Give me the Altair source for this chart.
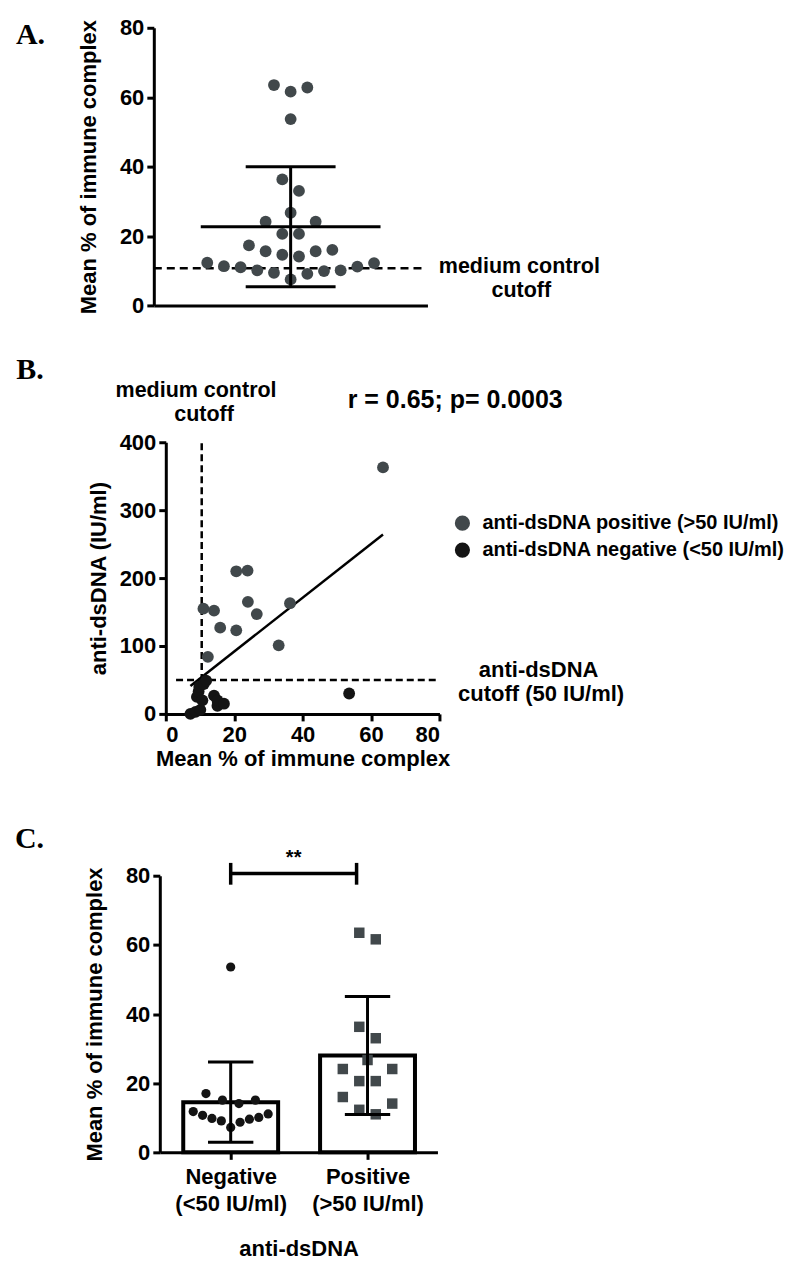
import altair as alt
import pandas as pd

FONT = "Liberation Sans, Arial, Helvetica, sans-serif"
SERIF = "Liberation Serif, Times New Roman, serif"
GREY = "#41484b"
BLACK = "#141414"

# ---------------- data ----------------
# Panel A: mean % of immune complex, all patients
A_values = [63.5, 61.6, 62.8, 53.7, 36.3, 33.0, 26.7, 24.1, 24.1, 20.6, 20.6,
            17.3, 15.6, 14.6, 14.1, 15.6, 16.0, 12.3, 11.3, 11.0, 10.1, 9.4,
            7.5, 9.1, 9.9, 10.1, 11.2, 12.2]
A_cutoff = [10.7]

# Panel B: immune complex vs anti-dsDNA
B_pos_x = [63.5, 20.6, 23.9, 11.0, 14.1, 24.0, 36.3, 26.6, 15.9, 20.6, 33.0, 12.3]
B_pos_y = [363, 210, 211, 155, 152, 165, 163, 147, 127, 123, 101, 84]
B_neg_x = [7.2, 8.7, 9.1, 9.6, 9.8, 10.1, 10.7, 11.1, 11.8, 14.1, 15.1, 15.1, 17.0, 53.6]
B_neg_y = [0, 3, 25, 33, 40, 6, 20, 44, 49, 27, 12, 20, 15, 30]
B_labels = ["anti-dsDNA positive (>50 IU/ml)", "anti-dsDNA negative (<50 IU/ml)"]
B_med_cutoff = [10.5]
B_dna_cutoff = [50]
B_stat_text = "r = 0.65; p= 0.0003"

# Panel C: by anti-dsDNA status
C_tick_lines = [["Negative", "(<50 IU/ml)"], ["Positive", "(>50 IU/ml)"]]
C_neg = [17.0, 15.1, 14.1, 15.1, 11.8, 10.7, 9.8, 9.1, 7.2, 8.7, 9.6, 10.1, 11.1, 53.6]
C_pos = [63.5, 61.6, 36.3, 33.0, 26.7, 24.1, 24.1, 20.6, 20.6, 16.0, 14.1, 12.3, 11.0]
C_sig_y = [80.6]
C_sig_x = [0.0, 0.92]
C_sig_tick = [77.4, 83.7]
C_sig_text = "**"

ONE = pd.DataFrame({"k": [0]})


def swarm_px(vals, thresh, natural, maxspan):
    """Column-scatter layout: group close values in rows, spread them sideways."""
    order = sorted(range(len(vals)), key=lambda i: vals[i])
    rows, cur, start = [], [], None
    for i in order:
        if start is None or vals[i] - start > thresh:
            if cur:
                rows.append(cur)
            cur, start = [i], vals[i]
        else:
            cur.append(i)
    rows.append(cur)
    offs = [0.0] * len(vals)
    for row in rows:
        n = len(row)
        step = natural if n < 2 else min(natural, maxspan / (n - 1))
        if n % 2 == 1:
            pos = [0] + [s * k for k in range(1, n // 2 + 1) for s in (1, -1)]
        else:
            pos = [s * (k - 0.5) for k in range(1, n // 2 + 1) for s in (1, -1)]
        for i, p in zip(row, pos):
            offs[i] = p * step
    return offs


def txt(s, x, y, size, align="center", baseline="middle", font=FONT, weight="bold"):
    return alt.Chart(ONE).mark_text(
        text=s, font=font, fontSize=size, fontWeight=weight, align=align,
        baseline=baseline, color="black"
    ).encode(x=alt.value(x), y=alt.value(y))


def box(L, T, R, B):
    return alt.Chart(ONE).mark_rule(opacity=0).encode(
        x=alt.value(L), x2=alt.value(R), y=alt.value(T), y2=alt.value(B))


def spacer():
    return alt.Chart(ONE).mark_rule(opacity=0).encode(
        x=alt.value(0), x2=alt.value(1), y=alt.value(0)).properties(width=1, height=1)


# ---------------- Panel A ----------------
dfA = pd.DataFrame({"value": A_values, "off": swarm_px(A_values, 5.2, 16.7, 200)})
xsA = alt.Scale(domain=[-137, 137], nice=False, zero=False)
ysA = alt.Scale(domain=[0, 80], nice=False)
axAx = alt.Axis(labels=False, ticks=False, title=None)
axAy = alt.Axis(values=[0, 20, 40, 60, 80], title="Mean % of immune complex",
                titlePadding=19, labelPadding=3)

ptsA = alt.Chart(dfA).mark_circle(size=140, color=GREY, opacity=1).encode(
    x=alt.X("off:Q", scale=xsA, axis=axAx),
    y=alt.Y("value:Q", scale=ysA, axis=axAy))
cutA = alt.Chart(pd.DataFrame({"c": A_cutoff})).mark_rule(
    color="black", strokeWidth=2.5, strokeDash=[8, 5]).encode(
    x=alt.datum(-137), x2=alt.datum(132), y=alt.Y("c:Q", scale=ysA, axis=axAy))
stA = alt.Chart(dfA).transform_aggregate(
    m="mean(value)", s="stdev(value)").transform_calculate(
    lo="datum.m - datum.s", hi="datum.m + datum.s")
meanA = stA.mark_rule(color="black", strokeWidth=3).encode(
    x=alt.datum(-90), x2=alt.datum(90), y=alt.Y("m:Q", scale=ysA, axis=axAy))
capHiA = stA.mark_rule(color="black", strokeWidth=3).encode(
    x=alt.datum(-45), x2=alt.datum(45), y=alt.Y("hi:Q", scale=ysA, axis=axAy))
capLoA = stA.mark_rule(color="black", strokeWidth=3).encode(
    x=alt.datum(-45), x2=alt.datum(45), y=alt.Y("lo:Q", scale=ysA, axis=axAy))
vertA = stA.mark_rule(color="black", strokeWidth=3).encode(
    x=alt.datum(0), y=alt.Y("lo:Q", scale=ysA, axis=axAy), y2="hi:Q")

panelA = alt.layer(
    box(-145, -19, 638, 313),
    cutA, ptsA, meanA, capHiA, capLoA, vertA,
    txt("A.", -138, 16, 30, align="left", baseline="alphabetic", font=SERIF),
    txt("medium control", 366, 240, 21.5),
    txt("cutoff", 368, 264, 21.5),
).properties(width=274, height=278)

# ---------------- Panel B ----------------
dfB = pd.DataFrame({
    "x": B_pos_x + B_neg_x,
    "y": B_pos_y + B_neg_y,
    "group": [B_labels[0]] * len(B_pos_x) + [B_labels[1]] * len(B_neg_x),
})
xsB = alt.Scale(domain=[0, 80], nice=False)
ysB = alt.Scale(domain=[0, 400], nice=False)
axBx = alt.Axis(values=[0, 20, 40, 60, 80], title="Mean % of immune complex",
                labelPadding=4, titlePadding=3)
axBy = alt.Axis(values=[0, 100, 200, 300, 400], title="anti-dsDNA (IU/ml)",
                titlePadding=9, labelPadding=3)

ptsB = alt.Chart(dfB).mark_circle(size=140, opacity=1).encode(
    x=alt.X("x:Q", scale=xsB, axis=axBx),
    y=alt.Y("y:Q", scale=ysB, axis=axBy),
    color=alt.Color("group:N", scale=alt.Scale(domain=B_labels, range=[GREY, BLACK]),
                    legend=alt.Legend(orient="none", legendX=287, legendY=71, title=None,
                                      labelFont=FONT, labelFontSize=20, labelFontWeight="bold",
                                      labelColor="black", labelLimit=0, symbolSize=230,
                                      symbolType="circle", symbolStrokeWidth=0,
                                      rowPadding=7, labelOffset=10, padding=0)))
regB = alt.Chart(dfB).transform_regression("x", "y").mark_line(
    color="black", strokeWidth=2.5).encode(
    x=alt.X("x:Q", scale=xsB, axis=axBx), y=alt.Y("y:Q", scale=ysB, axis=axBy))
vcutB = alt.Chart(pd.DataFrame({"c": B_med_cutoff})).mark_rule(
    color="black", strokeWidth=2.5, strokeDash=[7, 4]).encode(
    x=alt.X("c:Q", scale=xsB, axis=axBx), y=alt.datum(0), y2=alt.datum(400))
hcutB = alt.Chart(pd.DataFrame({"c": B_dna_cutoff})).mark_rule(
    color="black", strokeWidth=2.5, strokeDash=[7, 4]).encode(
    y=alt.Y("c:Q", scale=ysB, axis=axBy), x=alt.datum(3), x2=alt.datum(79))

panelB = alt.layer(
    box(-156.7, -101.7, 626.3, 348.3),
    vcutB, hcutB, regB, ptsB,
    txt("B.", -149.7, -63.7, 30, align="left", baseline="alphabetic", font=SERIF),
    txt("medium control", 30.3, -51.7, 21.5),
    txt("cutoff", 38.3, -27.7, 21.5),
    txt(B_stat_text, 289.8, -42.7, 25),
    txt("anti-dsDNA", 373.3, 228.3, 22),
    txt("cutoff (50 IU/ml)", 375.8, 252.3, 22),
).properties(width=274, height=272)

# ---------------- Panel C ----------------
offN = swarm_px(C_neg, 5.2, 16.5, 75)
offP = swarm_px(C_pos, 5.2, 16.5, 75)
PXG = 137.0  # pixels per group step
dfC = pd.DataFrame({
    "g": [0] * len(C_neg) + [1] * len(C_pos),
    "value": C_neg + C_pos,
    "off": offN + offP,
})
dfC["x"] = dfC["g"] + dfC["off"] / PXG

xsC = alt.Scale(domain=[-0.518, 1.511], nice=False, zero=False)
ysC = alt.Scale(domain=[0, 80], nice=False)
lab_expr = "datum.value == 0 ? %s : %s" % (
    "['" + "', '".join(C_tick_lines[0]) + "']",
    "['" + "', '".join(C_tick_lines[1]) + "']")
axCx = alt.Axis(values=[0, 1], labelExpr=lab_expr, title="anti-dsDNA",
                labelFontSize=22, labelLineHeight=27, labelPadding=7, titlePadding=24)
axCy = alt.Axis(values=[0, 20, 40, 60, 80], title="Mean % of immune complex",
                titlePadding=19, labelPadding=3)

stC = alt.Chart(dfC).transform_aggregate(
    m="mean(value)", s="stdev(value)", groupby=["g"]).transform_calculate(
    lo="datum.m - datum.s", hi="datum.m + datum.s",
    xl="datum.g - 47.5 / %s" % PXG, xr="datum.g + 47.5 / %s" % PXG,
    cl="datum.g - 22.7 / %s" % PXG, cr="datum.g + 22.7 / %s" % PXG)
barsC = stC.mark_rect(fill="white", stroke="black", strokeWidth=4).encode(
    x=alt.X("xl:Q", scale=xsC, axis=axCx), x2="xr:Q",
    y=alt.Y("m:Q", scale=ysC, axis=axCy), y2=alt.datum(0))
negC = alt.Chart(dfC).transform_filter("datum.g == 0").mark_circle(
    size=85, color=BLACK, opacity=1).encode(
    x=alt.X("x:Q", scale=xsC, axis=axCx), y=alt.Y("value:Q", scale=ysC, axis=axCy))
posC = alt.Chart(dfC).transform_filter("datum.g == 1").mark_square(
    size=110, color=GREY, opacity=1).encode(
    x=alt.X("x:Q", scale=xsC, axis=axCx), y=alt.Y("value:Q", scale=ysC, axis=axCy))
vertC = stC.mark_rule(color="black", strokeWidth=3).encode(
    x=alt.X("g:Q", scale=xsC, axis=axCx), y=alt.Y("lo:Q", scale=ysC, axis=axCy), y2="hi:Q")
capHiC = stC.mark_rule(color="black", strokeWidth=3).encode(
    x=alt.X("cl:Q", scale=xsC, axis=axCx), x2="cr:Q", y=alt.Y("hi:Q", scale=ysC, axis=axCy))
capLoC = stC.mark_rule(color="black", strokeWidth=3).encode(
    x=alt.X("cl:Q", scale=xsC, axis=axCx), x2="cr:Q", y=alt.Y("lo:Q", scale=ysC, axis=axCy))

sig_h = alt.Chart(pd.DataFrame({"y": C_sig_y, "x1": [C_sig_x[0]], "x2": [C_sig_x[1]]})).mark_rule(
    color="black", strokeWidth=3.5).encode(
    x=alt.X("x1:Q", scale=xsC, axis=axCx), x2="x2:Q", y=alt.Y("y:Q", scale=ysC, axis=axCy))
sig_v = alt.Chart(pd.DataFrame({"x": C_sig_x, "y1": [C_sig_tick[0]] * 2,
                                "y2": [C_sig_tick[1]] * 2})).mark_rule(
    color="black", strokeWidth=3.5).encode(
    x=alt.X("x:Q", scale=xsC, axis=axCx), y=alt.Y("y1:Q", scale=ysC, axis=axCy), y2="y2:Q")
sig_t = alt.Chart(pd.DataFrame({"x": [sum(C_sig_x) / 2], "y": [C_sig_tick[1] + 1.5],
                                "t": [C_sig_text]})).mark_text(
    font=FONT, fontSize=20, fontWeight="bold", color="black", baseline="middle").encode(
    x=alt.X("x:Q", scale=xsC, axis=axCx), y=alt.Y("y:Q", scale=ysC, axis=axCy), text="t:N")

panelC = alt.layer(
    box(-151, -84.3, 632, 391.7),
    barsC, negC, posC, vertC, capHiC, capLoC, sig_h, sig_v, sig_t,
    txt("C.", -145, -27.3, 30, align="left", baseline="alphabetic", font=SERIF),
).properties(width=278, height=277)

rowA = alt.hconcat(spacer(), panelA, spacing=0)
rowB = alt.hconcat(spacer(), panelB, spacing=0).resolve_legend(color="independent")
rowC = alt.hconcat(spacer(), panelC, spacing=0)

chart = alt.concat(rowA, rowB, rowC, columns=1, spacing=0).properties(
    padding=0
).resolve_legend(color="independent").configure_axis(
    labelFont=FONT, labelFontWeight="bold", labelColor="black", labelFontSize=22,
    titleFont=FONT, titleFontWeight="bold", titleColor="black", titleFontSize=22,
    domainColor="black", domainWidth=3, tickColor="black", tickWidth=3, tickSize=7,
    grid=False
).configure_view(stroke=None)

chart.save("out.html", embed_options={"renderer": "svg", "actions": False})
